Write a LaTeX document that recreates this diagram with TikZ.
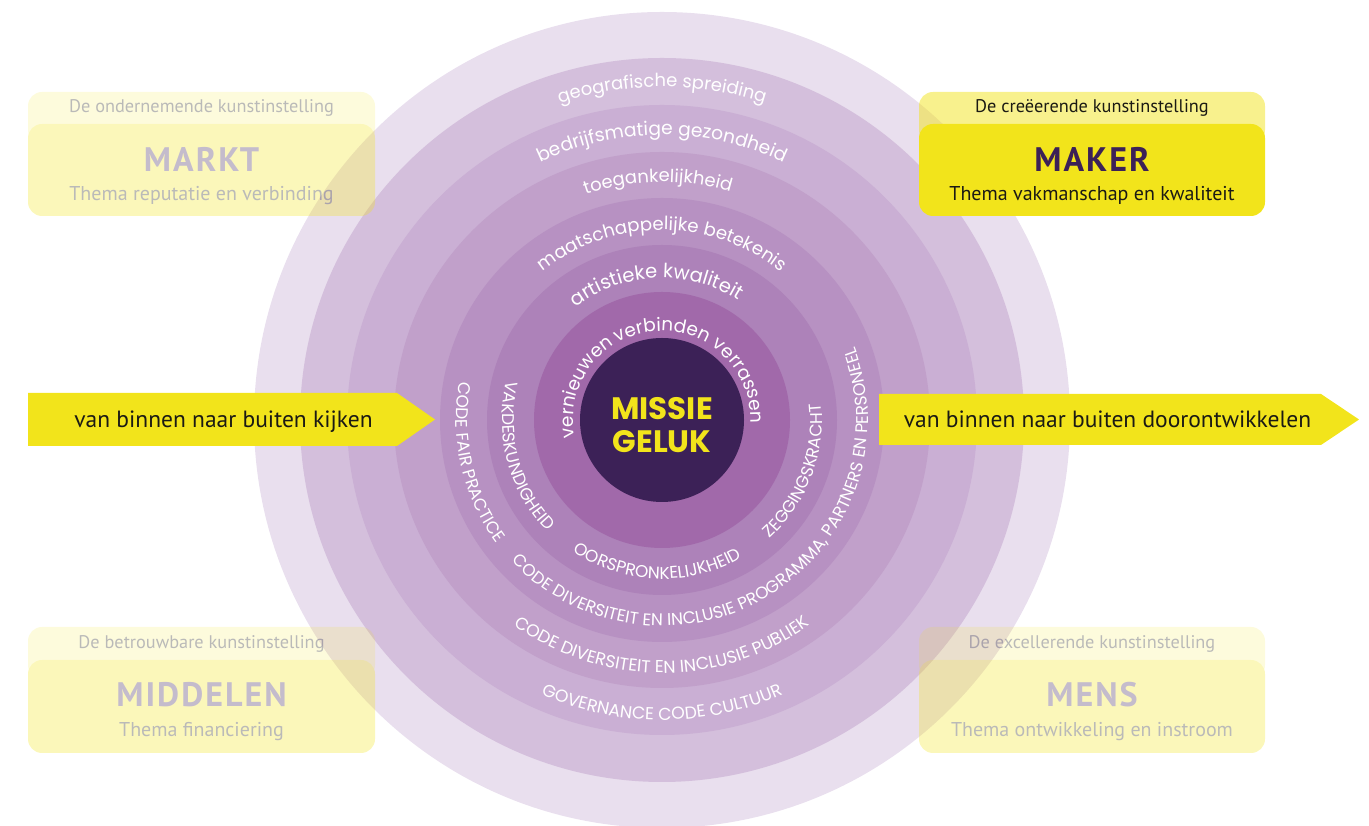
\documentclass[tikz,border=0pt]{standalone}
\usepackage{fontspec}
\setmainfont{Poppins}
\newfontfamily\boxfont{PT Sans}
\newfontfamily\titlefont[LetterSpace=6]{PT Sans}
\usetikzlibrary{decorations.text,calc}
\definecolor{ringA}{HTML}{E9DFEE}
\definecolor{ringB}{HTML}{D4BFDC}
\definecolor{ringC}{HTML}{CAAFD4}
\definecolor{ringD}{HTML}{C1A0CA}
\definecolor{ringE}{HTML}{B791C2}
\definecolor{ringF}{HTML}{AD82B9}
\definecolor{ringG}{HTML}{A169AA}
\definecolor{core}{HTML}{3C2157}
\definecolor{yel}{HTML}{F2E41B}
\definecolor{ink}{HTML}{1B1A14}
\newcommand\toparc[5]{% radius, center angle, half span, size, text
  \path[decorate,decoration={text along path,text align=center,text color=white,
    text={|\fontsize{#4}{#4}\selectfont|#5}}]
    ($(C)+(#2+#3:#1)$) arc[start angle=#2+#3,end angle=#2-#3,radius=#1];}
\newcommand\botarc[5]{%
  \path[decorate,decoration={text along path,text align=center,text color=white,
    text={|\fontsize{#4}{#4}\selectfont|#5}}]
    ($(C)+(#2-#3:#1)$) arc[start angle=#2-#3,end angle=#2+#3,radius=#1];}
\tikzset{
  tabbox/.style={fill=yel,fill opacity=0.5,rounded corners=14pt},
  mainbox/.style={fill=yel,rounded corners=14pt},
  tabtext/.style={font=\boxfont\fontsize{18.3}{18.3}\selectfont,text=ink,anchor=base},
  titletext/.style={font=\titlefont\bfseries\fontsize{34}{34}\selectfont,text=core,anchor=base},
  subtext/.style={font=\boxfont\fontsize{20}{20}\selectfont,text=ink,anchor=base},
  arrowtext/.style={font=\boxfont\fontsize{23.5}{23.5}\selectfont,text=ink,anchor=base},
}
\begin{document}
\begin{tikzpicture}[x=1pt,y=1pt]
\useasboundingbox (0,0) rectangle (1369,826);
\coordinate (C) at (662,406);
% rings
\fill[ringA] (C) circle[radius=408];
\fill[ringB] (C) circle[radius=362];
\fill[ringC] (C) circle[radius=315];
\fill[ringD] (C) circle[radius=268];
\fill[ringE] (C) circle[radius=222];
\fill[ringF] (C) circle[radius=175];
\fill[ringG] (C) circle[radius=128];
\fill[core] (C) circle[radius=82];
\node[align=center,text=yel,font=\bfseries\fontsize{31}{33}\selectfont] (missie) at ($(C)+(0,-5)$) {MISSIE\\GELUK};
% top arc texts
\toparc{333}{90}{60}{18}{geografische spreiding}
\toparc{285}{90}{60}{18.7}{bedrijfsmatige gezondheid}
\toparc{238}{91}{60}{18}{toegankelijkheid}
\toparc{190}{90}{70}{18.2}{maatschappelijke betekenis}
\toparc{142}{92.5}{80}{19.5}{artistieke kwaliteit}
\toparc{89}{90}{45}{18.5}{verbinden}
\toparc{89}{157}{45}{18.5}{vernieuwen}
\toparc{89}{27}{45}{18.5}{verrassen}
% bottom arc texts
\botarc{159}{268}{60}{17}{OORSPRONKELIJKHEID}
\botarc{160}{195}{45}{17}{VAKDESKUNDIGHEID}
\botarc{160}{339}{45}{17}{ZEGGINGSKRACHT}
\botarc{206}{193}{40}{17}{CODE FAIR PRACTICE}
\botarc{206}{302}{110}{17}{CODE DIVERSITEIT EN INCLUSIE PROGRAMMA, PARTNERS EN PERSONEEL}
\botarc{253}{270}{60}{17.3}{CODE DIVERSITEIT EN INCLUSIE PUBLIEK}
\botarc{300}{270}{40}{17.3}{GOVERNANCE CODE CULTUUR}
% arrows
\fill[yel] (28,433) -- (397,433) -- (435,406.5) -- (397,380) -- (28,380) -- cycle;
\node[arrowtext] (arrL) at (223.5,398) {van binnen naar buiten kijken};
\fill[yel] (879,432) -- (1321,432) -- (1359,406.5) -- (1321,381) -- (879,381) -- cycle;
\node[arrowtext] (arrR) at (1107.5,398) {van binnen naar buiten doorontwikkelen};
% MARKT (faded)
\begin{scope}[transparency group,opacity=0.3]
\fill[tabbox] (28,682) rectangle (375,734);
\fill[mainbox] (28,610) rectangle (375,702);
\node[tabtext] (marktTab) at (201.5,713) {De ondernemende kunstinstelling};
\node[titletext] (markt) at (201.5,654) {MARKT};
\node[subtext] (marktSub) at (201.5,625) {Thema reputatie en verbinding};
\end{scope}
% MIDDELEN (faded)
\begin{scope}[transparency group,opacity=0.3]
\fill[tabbox] (28,147) rectangle (375,199);
\fill[mainbox] (28,73) rectangle (375,166);
\node[tabtext] (midTab) at (201.5,177) {De betrouwbare kunstinstelling};
\node[titletext] (mid) at (201.5,119) {MIDDELEN};
\node[subtext] (midSub) at (201.5,89) {Thema financiering};
\end{scope}
% MENS (faded)
\begin{scope}[transparency group,opacity=0.3]
\fill[tabbox] (919,147) rectangle (1265,199);
\fill[mainbox] (919,73) rectangle (1265,166);
\node[tabtext] (mensTab) at (1092,177) {De excellerende kunstinstelling};
\node[titletext] (mens) at (1092,119) {MENS};
\node[subtext] (mensSub) at (1092,89) {Thema ontwikkeling en instroom};
\end{scope}
% MAKER (highlighted)
\fill[tabbox] (919,682) rectangle (1265,734);
\fill[mainbox] (919,610) rectangle (1265,702);
\node[tabtext] (makerTab) at (1092,713) {De creëerende kunstinstelling};
\node[titletext] (maker) at (1092,654) {MAKER};
\node[subtext] (makerSub) at (1092,625) {Thema vakmanschap en kwaliteit};
\end{tikzpicture}
\end{document}
